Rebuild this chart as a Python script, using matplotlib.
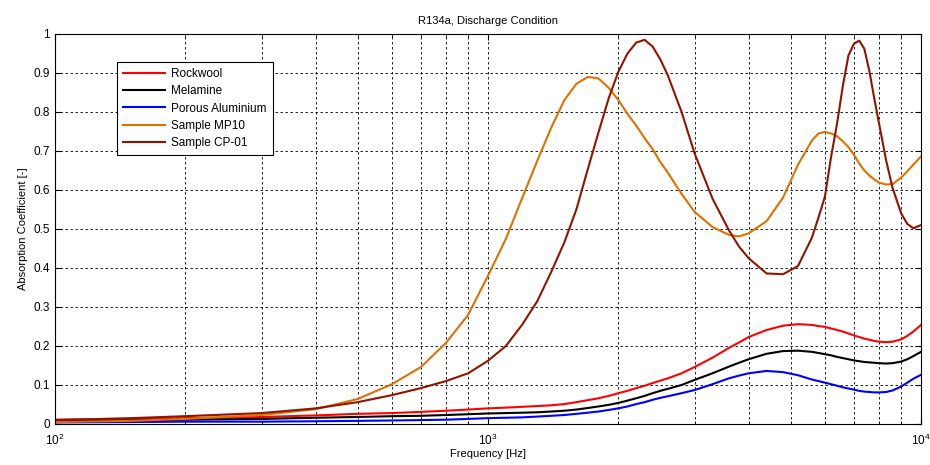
import numpy as np
import matplotlib
matplotlib.use('Agg')
import matplotlib.pyplot as plt
from matplotlib.ticker import FixedLocator, LogLocator, NullFormatter

plt.rcParams['font.family'] = ['Liberation Sans', 'DejaVu Sans']
plt.rcParams['font.size'] = 8

# frequency grid [Hz]
freq = [100, 150, 200, 300, 400, 500, 600, 700, 800, 900, 1000, 1100, 1200, 1300,
        1400, 1500, 1600, 1700, 1800, 1900, 2000, 2100, 2200, 2300, 2400, 2500, 2600,
        2800, 3000, 3300, 3600, 3800, 4000, 4400, 4800, 5200, 5600, 5800, 6000, 6200,
        6400, 6600, 6800, 7000, 7200, 7400, 7600, 7800, 8000, 8300, 8600, 9000, 9300,
        9600, 10000]

rockwool = [.011, .013, .015, .018, .022, .026, .028, .031, .034, .037, .040, .042, .044, .046,
            .048, .051, .056, .061, .066, .072, .079, .085, .092, .098, .105, .111, .117,
            .130, .146, .170, .195, .209, .223, .241, .252, .256, .254, .251, .249, .245,
            .241, .237, .232, .227, .223, .219, .216, .213, .211, .210, .211, .217, .226,
            .237, .254]
melamine = [.008, .009, .011, .013, .016, .018, .020, .021, .023, .025, .027, .028, .029, .030,
            .032, .034, .037, .041, .045, .049, .054, .060, .066, .072, .079, .085, .090,
            .100, .113, .130, .147, .157, .166, .180, .187, .188, .185, .182, .179, .176,
            .172, .169, .166, .163, .161, .159, .158, .157, .156, .155, .156, .160, .166,
            .174, .185]
porous_al = [.004, .005, .006, .006, .007, .008, .009, .010, .011, .013, .015, .016, .017, .019,
             .021, .023, .026, .029, .032, .036, .040, .045, .051, .056, .062, .067, .071,
             .079, .087, .102, .117, .124, .130, .136, .133, .125, .114, .110, .106, .102,
             .098, .094, .091, .088, .085, .083, .082, .081, .081, .082, .086, .096, .106,
             .116, .126]
mp10 = [.005, .008, .013, .023, .038, .064, .102, .146, .208, .280, .380, .475, .580, .675,
        .760, .830, .872, .890, .886, .862, .831, .795, .765, .733, .705, .672, .645,
        .590, .544, .505, .485, .481, .489, .520, .580, .665, .727, .745, .749, .745,
        .738, .725, .710, .690, .668, .650, .637, .627, .619, .614, .615, .632, .648,
        .665, .686]
cp01 = [.010, .015, .020, .028, .040, .056, .074, .092, .110, .130, .162, .200, .255, .315,
        .390, .465, .550, .653, .748, .835, .903, .950, .978, .985, .968, .935, .895,
        .800, .694, .578, .497, .455, .425, .386, .384, .405, .478, .530, .583, .685,
        .770, .867, .945, .975, .983, .962, .905, .835, .771, .678, .605, .540, .513,
        .502, .510]

labels = ['Rockwool', 'Melamine', 'Porous Aluminium', 'Sample MP10', 'Sample CP-01']
colors = ['#ff0000', '#000000', '#0000ff', '#e07000', '#901400']
series = [rockwool, melamine, porous_al, mp10, cp01]

fig = plt.figure(figsize=(9.3, 4.65), dpi=100)
ax = fig.add_axes([0.0591, 0.0882, 0.9312, 0.8387])

for s, c, l in zip(series, colors, labels):
    ax.semilogx(freq, s, color=c, lw=1.5, label=l)

ax.set_xlim(100, 10000)
ax.set_ylim(0, 1)
ax.yaxis.set_major_locator(FixedLocator(np.arange(0, 1.01, 0.1)))
ax.set_yticklabels(['0', '0.1', '0.2', '0.3', '0.4', '0.5', '0.6', '0.7', '0.8', '0.9', '1'])
ax.xaxis.set_major_locator(LogLocator(base=10))
ax.xaxis.set_minor_locator(LogLocator(base=10, subs=np.arange(2, 10)))
ax.xaxis.set_minor_formatter(NullFormatter())

ax.grid(True, which='major', color='black', linestyle=(0, (3, 3)), linewidth=0.6)
ax.grid(True, which='minor', axis='x', color='black', linestyle=(0, (3, 3)), linewidth=0.6)
ax.tick_params(which='both', direction='in', top=True, right=True, labelsize=8.5)
ax.tick_params(which='major', length=4)
ax.tick_params(which='minor', length=2.5)
ax.tick_params(axis='x', which='major', pad=6)
for sp in ax.spines.values():
    sp.set_linewidth(0.8)

ax.set_title('R134a, Discharge Condition', fontsize=8, pad=7)
ax.set_xlabel('Frequency [Hz]', fontsize=8, labelpad=1)
ax.set_ylabel('Absorption Coefficient [-]', fontsize=8, labelpad=4)

leg = ax.legend(loc='upper left', bbox_to_anchor=(0.0716, 0.928), borderaxespad=0,
                fancybox=False, edgecolor='black', framealpha=1, fontsize=8.5,
                handlelength=3.6, handletextpad=0.5, labelspacing=0.45, borderpad=0.5)
leg.get_frame().set_linewidth(0.8)

fig.savefig('out.png', dpi=100)
